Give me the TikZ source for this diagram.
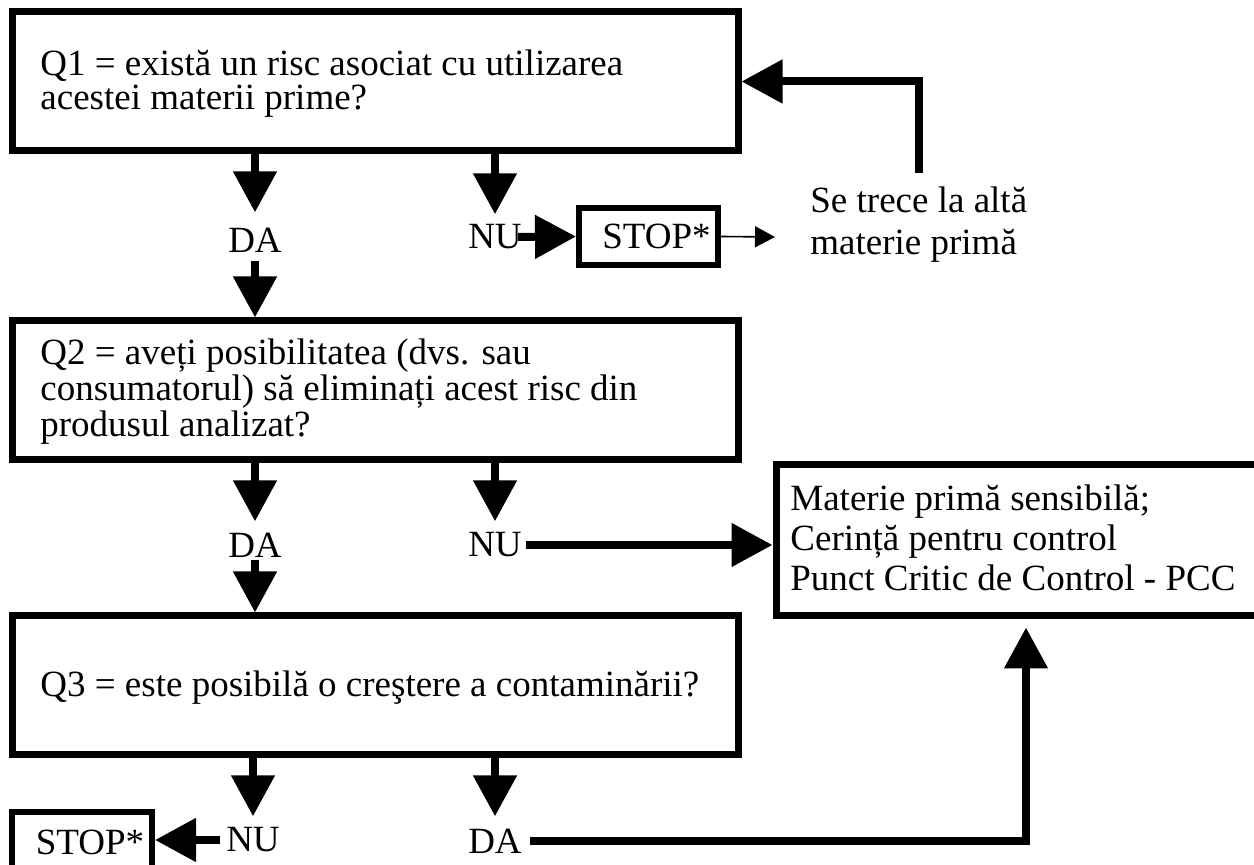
\documentclass[tikz,border=0pt]{standalone}
\usepackage{fontspec}
\setmainfont{Liberation Serif}
\usetikzlibrary{arrows.meta}
\begin{document}
\begin{tikzpicture}[x=0.5pt,y=-0.5pt,
  txt/.style={font=\fontsize{18.5pt}{18pt}\selectfont},
  qbox/.style={draw, line width=3.5pt, outer sep=1.75pt, inner sep=0pt,
    minimum width=363pt, minimum height=69.5pt},
  qtext/.style={txt, inner sep=0pt, align=left, anchor=west},
  stopbox/.style={txt, draw, line width=3pt, outer sep=1.5pt, inner sep=0pt},
  lab/.style={txt, inner sep=0pt},
  arr/.style={line width=4pt, -{Triangle[length=20.5pt,width=21pt]}},
  thinarr/.style={line width=0.8pt, -{Triangle[length=10pt,width=10.5pt]}}
]
\useasboundingbox (0,0) rectangle (1254,865);
\clip (0,0) rectangle (1254,865);

\node[qbox] (q1) at (375,81.5) {};
\node[qbox] (q2) at (375,390.5) {};
\node[qbox] (q3) at (375,685.5) {};
\node[qtext, font=\fontsize{18.5pt}{17pt}\selectfont] (q1t) at (40,84)
  {Q1 = există un risc asociat cu utilizarea\\acestei materii prime?};
\node[qtext] (q2t) at (40,392)
  {Q2 = aveți posibilitatea (dvs. sau\\consumatorul) să eliminați acest risc din\\produsul analizat?};
\node[qtext] (q3t) at (40,688)
  {Q3 = este posibilă o creştere a contaminării?};

\node[draw, line width=3.5pt, outer sep=1.75pt, inner sep=0pt,
  minimum width=243pt, minimum height=75.5pt] (pcc) at (1019,540.5) {};
\node[qtext, font=\fontsize{18.5pt}{20pt}\selectfont] (pcct) at (790,538)
  {Materie primă sensibilă;\\Cerință pentru control\\Punct Critic de Control - PCC};

\node[stopbox, minimum width=69.5pt, minimum height=28.5pt] (stop1) at (648.5,236.5) {\hspace*{8pt}STOP*};
\node[stopbox, minimum width=70pt, minimum height=30pt] (stop2) at (82,842) {\hspace*{8pt}STOP*};

\node[lab] (da1) at (255,240) {DA};
\node[lab] (nu1) at (495,237) {NU};
\node[lab] (da2) at (255,545) {DA};
\node[lab] (nu2) at (495,545) {NU};
\node[lab] (nu3) at (253,840) {NU};
\node[lab] (da3) at (495,841) {DA};

\node[qtext, font=\fontsize{18.5pt}{21pt}\selectfont] (se) at (810,225)
  {Se trece la altă\\materie primă};
\coordinate (seend) at (775,237);

\draw[arr] (da1 |- q1.south) -- ([yshift=7.5pt]da1.north);
\draw[arr] ([yshift=-4pt]da1.south) -- (da1 |- q2.north);
\draw[arr] (nu1 |- q1.south) -- ([yshift=5pt]nu1.north);
\draw[arr] ([xshift=-2pt]nu1.east) -- (stop1.west);
\draw[thinarr] (stop1.east) -- (seend);
\draw[arr] ([yshift=7pt]se.north) |- (q1.east);

\draw[arr] (da2 |- q2.south) -- ([yshift=5.5pt]da2.north);
\draw[arr] ([yshift=-1pt]da2.south) -- (da2 |- q3.north);
\draw[arr] (nu2 |- q2.south) -- ([yshift=5.5pt]nu2.north);
\draw[arr] ([xshift=2pt]nu2.east) -- (pcc.west |- nu2.east);

\draw[arr] (nu3 |- q3.south) -- ([yshift=5.5pt]nu3.north);
\draw[arr] ([xshift=-3pt]nu3.west) -- (stop2.east |- nu3.west);
\draw[arr] (da3 |- q3.south) -- ([yshift=6pt]da3.north);
\draw[arr, shorten >=4pt] ([xshift=4pt]da3.east) -| ([xshift=3.5pt]pcc.south);
\end{tikzpicture}
\end{document}
